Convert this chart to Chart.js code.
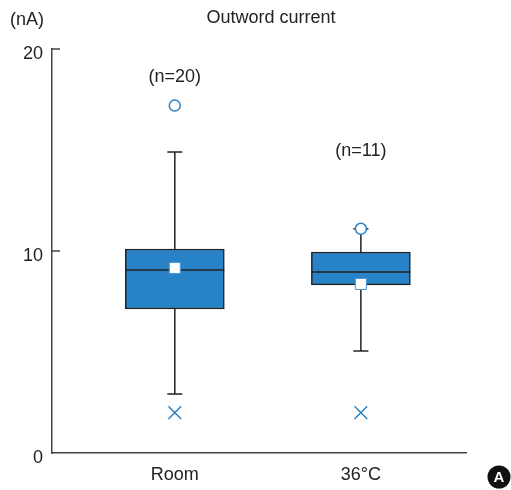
<!DOCTYPE html>
<html>
<head>
<meta charset="utf-8">
<script src="https://cdn.jsdelivr.net/npm/chart.js@4.4.1/dist/chart.umd.min.js"></script>
<style>
  body { margin: 0; background: #fff; }
  canvas { display: block; }
</style>
</head>
<body>
<canvas id="box_chart" width="511" height="490"></canvas>
<script>
// values
const categories = ['Room', '36°C'];
const counts = [20, 11];
const q1 = [7.13, 8.32];
const q3 = [10.1, 9.95];
const medians = [9.06, 8.96];
const whiskerLow = [2.92, 5.05];
const whiskerHigh = [14.9, 11.1];
const means = [9.16, 8.37];
const outliers = [17.2, 11.1];   // open circles
const extremes = [2.0, 2.0];     // crosses
const yTicks = [0, 10, 20];
const countLabelY = [18.6, 14.95];

const FONT = "'Liberation Sans', Arial, sans-serif";
const BLUE = '#2882c8';
const DARK = '#222';

const xPos = categories.map((c, i) => i + 1);

const boxData = xPos.map((x, i) => ({ x: x, y: [q1[i], q3[i]] }));
const whiskerData = [];
xPos.forEach((x, i) => {
  whiskerData.push({ x: x, y: whiskerLow[i] }, { x: x, y: whiskerHigh[i] }, { x: x, y: null });
});
const capData = [];
xPos.forEach((x, i) => {
  capData.push({ x: x, y: whiskerLow[i] }, { x: x, y: whiskerHigh[i] });
});
const pts = arr => xPos.map((x, i) => ({ x: x, y: arr[i] }));

// inward ticks on y axis + free text
const extras = {
  id: 'extras',
  afterDraw(chart) {
    const ctx = chart.ctx;
    const xs = chart.scales.x, ys = chart.scales.y;
    const area = chart.chartArea;
    ctx.save();
    ctx.strokeStyle = '#444';
    ctx.lineWidth = 1.5;
    yTicks.forEach(v => {
      if (v === 0) return;
      const py = ys.getPixelForValue(v);
      ctx.beginPath();
      ctx.moveTo(area.left, py);
      ctx.lineTo(area.left + 8, py);
      ctx.stroke();
    });

    ctx.fillStyle = DARK;
    ctx.font = '18px ' + FONT;
    ctx.textAlign = 'center';
    ctx.textBaseline = 'middle';
    ctx.fillText('(nA)', 27, 20);
    ctx.fillText('Outword current', 271, 18);
    xPos.forEach((x, i) => {
      ctx.fillText('(n=' + counts[i] + ')', xs.getPixelForValue(x), ys.getPixelForValue(countLabelY[i]));
    });

    ctx.beginPath();
    ctx.arc(499, 477, 11.5, 0, Math.PI * 2);
    ctx.fillStyle = '#111';
    ctx.fill();
    ctx.fillStyle = '#fff';
    ctx.font = 'bold 15px ' + FONT;
    ctx.fillText('A', 499, 478);
    ctx.restore();
  }
};

const ctx = document.getElementById('box_chart').getContext('2d');
new Chart(ctx, {
  type: 'bar',
  data: {
    datasets: [
      {
        type: 'line',
        data: whiskerData,
        borderColor: DARK,
        borderWidth: 1.5,
        pointRadius: 0,
        spanGaps: false,
        order: 5
      },
      {
        type: 'line',
        data: capData,
        showLine: false,
        pointStyle: 'line',
        pointRadius: 7.5,
        borderColor: DARK,
        pointBorderWidth: 1.5,
        order: 4
      },
      {
        type: 'bar',
        data: boxData,
        backgroundColor: BLUE,
        borderColor: DARK,
        borderWidth: 1.5,
        borderSkipped: false,
        barThickness: 99,
        order: 3
      },
      {
        type: 'line',
        data: pts(medians),
        showLine: false,
        pointStyle: 'line',
        pointRadius: 49.5,
        borderColor: DARK,
        pointBorderWidth: 1.5,
        order: 2
      },
      {
        type: 'line',
        data: pts(means),
        showLine: false,
        pointStyle: 'rect',
        pointRadius: 7.8,
        pointBackgroundColor: '#fff',
        pointBorderColor: '#4a97d4',
        pointBorderWidth: 1,
        order: 1
      },
      {
        type: 'line',
        data: pts(outliers),
        showLine: false,
        pointStyle: 'circle',
        pointRadius: 5.5,
        pointBackgroundColor: '#fff',
        pointBorderColor: BLUE,
        pointBorderWidth: 1.5,
        order: 0
      },
      {
        type: 'line',
        data: pts(extremes),
        showLine: false,
        pointStyle: 'crossRot',
        pointRadius: 9,
        pointBorderColor: BLUE,
        pointBorderWidth: 1.5,
        order: 0
      }
    ]
  },
  options: {
    responsive: false,
    animation: false,
    layout: { autoPadding: false, padding: { top: 49, right: 45, left: 0, bottom: 0 } },
    plugins: { legend: { display: false }, tooltip: { enabled: false } },
    scales: {
      x: {
        type: 'linear',
        offset: false,
        min: 0.34,
        max: 2.565,
        afterFit: s => { s.height = 37; },
        afterBuildTicks: s => { s.ticks = xPos.map(v => ({ value: v })); },
        grid: { display: false, drawTicks: false, offset: false },
        border: { display: true, color: '#444', width: 1.5 },
        ticks: {
          padding: 11,
          color: DARK,
          font: { family: FONT, size: 18 },
          callback: v => categories[v - 1]
        }
      },
      y: {
        min: 0,
        max: 20,
        afterFit: s => { s.width = 52; },
        afterBuildTicks: s => { s.ticks = yTicks.map(v => ({ value: v })); },
        grid: { display: false, drawTicks: false },
        border: { display: true, color: '#444', width: 1.5 },
        ticks: {
          padding: 9,
          labelOffset: 5,
          color: DARK,
          font: { family: FONT, size: 18 }
        }
      }
    }
  },
  plugins: [extras]
});
</script>
</body>
</html>
